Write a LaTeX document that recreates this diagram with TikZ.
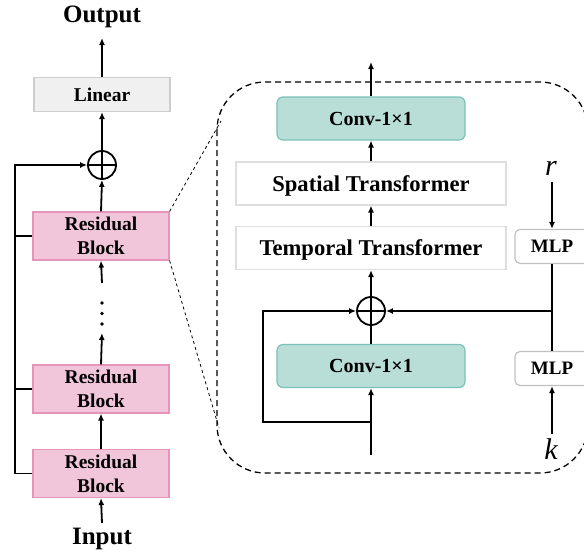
\documentclass[tikz,border=0pt]{standalone}
\usepackage{fontspec}
\setmainfont{Liberation Serif}
\usetikzlibrary{arrows.meta}
\definecolor{pinkf}{RGB}{242,198,218}
\definecolor{pinkd}{RGB}{230,148,184}
\definecolor{tealf}{RGB}{185,222,216}
\definecolor{teald}{RGB}{122,194,184}
\definecolor{grayf}{RGB}{240,240,240}
\definecolor{grayd}{RGB}{205,205,205}
\definecolor{lined}{RGB}{222,222,222}
\definecolor{mlpd}{RGB}{192,192,192}
\begin{document}
\begin{tikzpicture}[x=1pt,y=-1pt,
  arr/.style={line width=1.8pt,-{Latex[length=7pt,width=6pt]}},
  ln/.style={line width=1.8pt},
  rbox/.style={draw=pinkd,fill=pinkf,line width=1.2pt,minimum width=136pt,minimum height=48pt,inner sep=0pt,align=center,font=\fontsize{19.5}{24}\selectfont\bfseries},
  linbox/.style={draw=grayd,fill=grayf,line width=1.2pt,minimum width=136pt,minimum height=34pt,inner sep=0pt,font=\fontsize{19.5}{24}\selectfont\bfseries},
  convbox/.style={draw=teald,fill=tealf,line width=1.2pt,rounded corners=6pt,minimum width=188pt,minimum height=43pt,inner sep=0pt,font=\fontsize{20}{24}\selectfont\bfseries},
  trbox/.style={draw=lined,fill=white,line width=1.2pt,minimum width=270pt,minimum height=43pt,inner sep=0pt,text height=15pt,text depth=0pt,font=\fontsize{22.6}{26}\selectfont\bfseries},
  mlpbox/.style={draw=mlpd,fill=white,line width=1.2pt,rounded corners=5pt,minimum width=74pt,minimum height=34pt,inner sep=0pt,font=\fontsize{19}{22}\selectfont\bfseries},
  opl/.style={circle,draw,line width=1.8pt,minimum size=28pt,inner sep=0pt},
  bigtxt/.style={font=\fontsize{25}{28}\selectfont\bfseries,inner sep=0pt},
  vartxt/.style={font=\fontsize{30}{32}\selectfont\itshape,inner sep=0pt},
  zoomln/.style={line width=0.8pt,dash pattern=on 3pt off 3pt},
  cont/.style={line width=1.3pt,dash pattern=on 6pt off 4pt,rounded corners=48pt}
]
\useasboundingbox (0,0) rectangle (584,554);

% ---------- left column ----------
\node[bigtxt,anchor=base] (out) at (102,23) {Output};
\node[linbox] (lin) at (102,94.5) {Linear};
\node[opl] (op1) at (102,165) {};
\draw[ln] (op1.north) -- (op1.south) (op1.west) -- (op1.east);
\node[rbox] (rb1) at (101,236) {Residual\\Block};
\node[rbox] (rb2) at (101,389) {Residual\\Block};
\node[rbox] (rb3) at (101,473.5) {Residual\\Block};
\node[bigtxt,anchor=base] (inp) at (102,544) {Input};

\coordinate (topout) at (102,38);
\draw[arr] (lin.north) -- (topout);
\draw[arr] (op1.north) -- (lin.south);
\draw[arr] (rb1.north) -- (op1.south);
\coordinate (dtop) at (102,283);
\coordinate (dbot) at (102,333);
\draw[arr] (dtop) -- (rb1.south);
\draw[arr] (rb2.north) -- (dbot);
\foreach \yy in {303,313.5,324} \fill (102,\yy) circle (1.8pt);
\draw[arr] (rb3.north) -- (rb2.south);
\coordinate (inbot) at (102,523);
\draw[arr] (inbot) -- (rb3.south);

\coordinate (b1) at (15,236);
\coordinate (b2) at (15,389);
\coordinate (b3) at (15,473.5);
\draw[arr] (rb3.west) -- (b3) |- (op1.west);
\draw[ln] (rb1.west) -- (b1);
\draw[ln] (rb2.west) -- (b2);

% ---------- zoom lines ----------
\coordinate (z1) at (221,121);
\coordinate (z2) at (219,428);
\draw[zoomln] (rb1.north east) -- (z1);
\draw[zoomln] (rb1.south east) -- (z2);

% ---------- container ----------
\draw[cont] (217,82) rectangle (588,473);

% ---------- right panel ----------
\node[convbox] (c1) at (371,118.5) {Conv-1×1};
\node[trbox] (sp) at (371,183.5) {Spatial Transformer};
\node[trbox] (tp) at (371,248) {Temporal Transformer};
\node[opl] (op2) at (371,311) {};
\draw[ln] (op2.north) -- (op2.south) (op2.west) -- (op2.east);
\node[convbox] (c2) at (371,366) {Conv-1×1};
\node[mlpbox] (m1) at (552,246.5) {MLP};
\node[mlpbox] (m2) at (552,368.5) {MLP};
\node[vartxt,anchor=base] (r) at (551,175) {r};
\node[vartxt,anchor=base] (k) at (551,459) {k};

\coordinate (ctop) at (371,62);
\draw[arr] (c1.north) -- (ctop);
\draw[arr] (sp.north) -- (c1.south);
\draw[arr] (tp.north) -- (sp.south);
\draw[arr] (op2.north) -- (tp.south);
\draw[ln] (c2.north) -- (op2.south);
\coordinate (rin) at (371,455);
\coordinate (rj) at (371,422);
\coordinate (rl) at (263,422);
\draw[arr] (rin) -- (c2.south);
\draw[arr] (rj) -- (rl) |- (op2.west);

\coordinate (rs) at (552,182);
\coordinate (ks) at (552,434);
\coordinate (mj) at (552,311);
\draw[arr] (rs) -- (m1.north);
\draw[arr] (ks) -- (m2.south);
\draw[ln] (m1.south) -- (m2.north);
\draw[arr] (mj) -- (op2.east);
\end{tikzpicture}
\end{document}
